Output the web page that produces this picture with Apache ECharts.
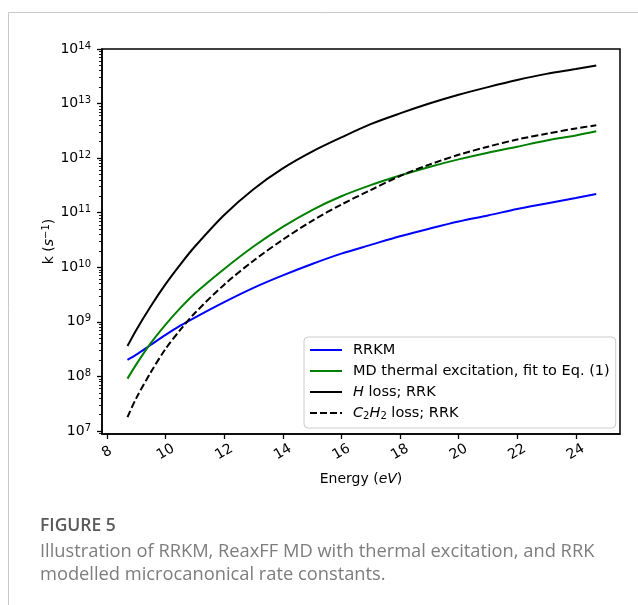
<!DOCTYPE html>
<html>
<head>
<meta charset="utf-8">
<script src="https://cdn.jsdelivr.net/npm/echarts@6/dist/echarts.min.js"></script>
<style>
html,body{margin:0;padding:0;background:#fff;}
#chart{width:638px;height:605px;}
</style>
</head>
<body>
<div id="chart"></div>
<script>
// ---- data ----
const energy = [8.7, 9, 9.5, 10, 10.5, 11, 12, 13, 14, 15, 16, 17, 18, 19, 20, 21, 22, 23, 24, 24.7];
const kRRKM = [2.0e8, 2.5e8, 3.8e8, 5.75e8, 8.5e8, 1.2e9, 2.3e9, 4.2e9, 7.1e9, 1.15e10, 1.78e10, 2.57e10, 3.7e10, 5.1e10, 6.9e10, 8.9e10, 1.17e11, 1.48e11, 1.86e11, 2.2e11];
const kMD = [9.1e7, 1.66e8, 4.1e8, 8.9e8, 1.78e9, 3.3e9, 9.3e9, 2.4e10, 5.5e10, 1.12e11, 2.0e11, 3.2e11, 4.8e11, 6.9e11, 9.5e11, 1.26e12, 1.62e12, 2.1e12, 2.6e12, 3.1e12];
const kHloss = [3.6e8, 7.1e8, 1.95e9, 4.9e9, 1.12e10, 2.4e10, 9.1e10, 2.7e11, 6.5e11, 1.32e12, 2.4e12, 4.2e12, 6.6e12, 1.0e13, 1.45e13, 2.0e13, 2.7e13, 3.5e13, 4.3e13, 5.0e13];
const kC2H2 = [1.8e7, 4.0e7, 1.2e8, 3.2e8, 7.1e8, 1.45e9, 4.8e9, 1.32e10, 3.2e10, 7.1e10, 1.41e11, 2.6e11, 4.7e11, 7.6e11, 1.15e12, 1.62e12, 2.2e12, 2.8e12, 3.5e12, 4.0e12];
const seriesNames = ['RRKM', 'MD thermal excitation, fit to Eq. (1)', 'H loss; RRK', 'C2H2 loss; RRK'];
const xTicks = [8, 10, 12, 14, 16, 18, 20, 22, 24];
const yTicks = [1e7, 1e8, 1e9, 1e10, 1e11, 1e12, 1e13, 1e14];
const yMinorTicks = [];
for (let d = 6; d <= 13; d++) { for (let m = 2; m <= 9; m++) { yMinorTicks.push(m * Math.pow(10, d)); } }

const FONT = 'DejaVu Sans';
const xMin = 7.83, xMax = 25.51, yMin = 8.8e6, yMax = 1.0e14;

function pairs(ys) { return energy.map((e, i) => [e, ys[i]]); }

const chart = echarts.init(document.getElementById('chart'), null, {renderer: 'canvas'});
const legendFmt = {
  'RRKM': 'RRKM',
  'MD thermal excitation, fit to Eq. (1)': 'MD thermal excitation, fit to Eq. (1)',
  'H loss; RRK': '{i|H} loss; RRK',
  'C2H2 loss; RRK': '{i|C}{sub|2}{i|H}{sub|2} loss; RRK'
};
const lineCommon = {type: 'line', symbol: 'none', smooth: 0.3, yAxisIndex: 0};

chart.setOption({
  animation: false,
  backgroundColor: '#fff',
  grid: {left: 102, top: 49, width: 518, height: 385, show: true, borderColor: '#000', borderWidth: 1.5, backgroundColor: 'transparent'},
  xAxis: {
    type: 'value', min: xMin, max: xMax,
    name: 'Energy ({i|eV})', nameLocation: 'middle', nameGap: 38, nameMoveOverlap: false,
    nameTextStyle: {fontFamily: FONT, fontSize: 14, color: '#000', rich: {i: {fontFamily: FONT, fontSize: 14, fontStyle: 'italic', color: '#000'}}},
    axisLine: {show: true, lineStyle: {color: '#000', width: 1.5}},
    axisTick: {show: true, customValues: xTicks, length: 5, inside: false, lineStyle: {color: '#000', width: 1.3}},
    axisLabel: {customValues: xTicks, rotate: 30, align: 'center', verticalAlign: 'middle', margin: 18,
      fontFamily: FONT, fontSize: 14, color: '#000'},
    splitLine: {show: false}
  },
  yAxis: [{
    type: 'log', logBase: 10, min: yMin, max: yMax,
    name: 'k ({i|s}{sup|−1})', nameLocation: 'middle', nameGap: 45, nameRotate: 90, nameMoveOverlap: false,
    nameTextStyle: {fontFamily: FONT, fontSize: 14, color: '#000', lineHeight: 16,
      rich: {i: {fontFamily: FONT, fontSize: 14, fontStyle: 'italic', color: '#000', lineHeight: 16},
             sup: {fontFamily: FONT, fontSize: 10, color: '#000', lineHeight: 10, verticalAlign: 'top'}}},
    axisLine: {show: true, lineStyle: {color: '#000', width: 1.5}},
    axisTick: {show: true, customValues: yTicks, length: 5, lineStyle: {color: '#000', width: 1.3}},
    axisLabel: {customValues: yTicks, margin: 11,
      formatter: function (v) { return '{b|10}{s|' + Math.round(Math.log10(v)) + '}'; },
      rich: {b: {fontFamily: FONT, fontSize: 14, color: '#000', lineHeight: 16, padding: [3, 0, 3, 0]},
             s: {fontFamily: FONT, fontSize: 10, color: '#000', lineHeight: 11, verticalAlign: 'top'}}},
    splitLine: {show: false}
  }, {
    type: 'log', logBase: 10, min: yMin, max: yMax, position: 'left',
    axisLine: {show: false},
    axisTick: {show: true, customValues: yMinorTicks, length: 3, lineStyle: {color: '#000', width: 0.9}},
    axisLabel: {show: false},
    splitLine: {show: false}
  }],
  legend: {
    orient: 'vertical', left: 304, top: 337,
    data: seriesNames,
    itemWidth: 32, itemHeight: 16, itemGap: 5,
    padding: [5, 6, 7, 5],
    itemStyle: {opacity: 0},
    borderColor: '#cccccc', borderWidth: 1, borderRadius: 4, backgroundColor: 'rgba(255,255,255,0.85)',
    formatter: function (n) { return legendFmt[n]; },
    textStyle: {fontFamily: FONT, fontSize: 14.5, color: '#000', lineHeight: 16, padding: [0, 0, 0, 6],
      rich: {i: {fontFamily: FONT, fontSize: 14.5, fontStyle: 'italic', color: '#000', lineHeight: 16},
             sub: {fontFamily: FONT, fontSize: 10, color: '#000', lineHeight: 9, verticalAlign: 'bottom'}}}
  },
  series: [
    Object.assign({name: seriesNames[0], data: pairs(kRRKM), lineStyle: {color: '#0000ff', width: 2}, itemStyle: {color: '#0000ff'}}, lineCommon),
    Object.assign({name: seriesNames[1], data: pairs(kMD), lineStyle: {color: '#008000', width: 2}, itemStyle: {color: '#008000'}}, lineCommon),
    Object.assign({name: seriesNames[2], data: pairs(kHloss), lineStyle: {color: '#000000', width: 2}, itemStyle: {color: '#000000'}}, lineCommon),
    Object.assign({name: seriesNames[3], data: pairs(kC2H2), lineStyle: {color: '#000000', width: 2, type: [7, 3]}, itemStyle: {color: '#000000'}}, lineCommon)
  ],
  graphic: [
    {type: 'line', shape: {x1: 8.5, y1: 12.5, x2: 638, y2: 12.5}, style: {stroke: '#c8c8c8', lineWidth: 1}, silent: true},
    {type: 'line', shape: {x1: 8.5, y1: 12.5, x2: 8.5, y2: 605}, style: {stroke: '#c8c8c8', lineWidth: 1}, silent: true},
    {type: 'text', left: 40, top: 517, style: {text: 'FIGURE 5', fontFamily: 'Open Sans', fontSize: 17.5, fontWeight: 600, fill: '#5a5a5a'}},
    {type: 'text', left: 40, top: 543, style: {text: 'Illustration of RRKM, ReaxFF MD with thermal excitation, and RRK', fontFamily: 'Open Sans', fontSize: 18.3, fontWeight: 400, fill: '#7d7d7d'}},
    {type: 'text', left: 40, top: 566, style: {text: 'modelled microcanonical rate constants.', fontFamily: 'Open Sans', fontSize: 18.3, fontWeight: 400, fill: '#7d7d7d'}}
  ]
});
</script>
</body>
</html>
